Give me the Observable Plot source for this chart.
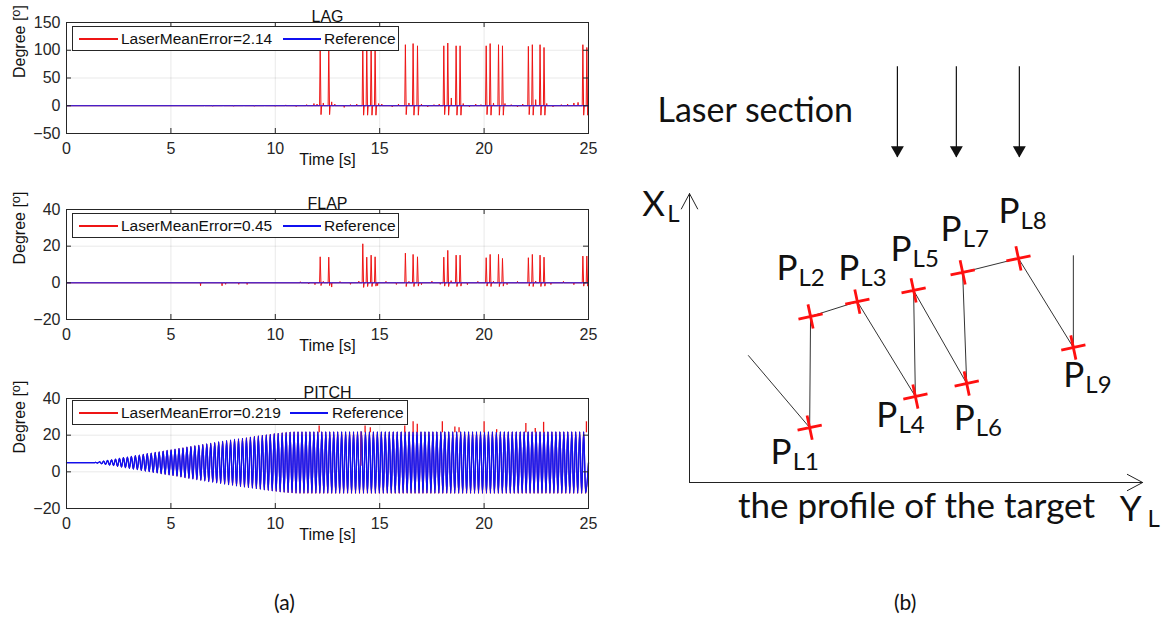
<!DOCTYPE html>
<html><head><meta charset="utf-8">
<script src="https://cdn.jsdelivr.net/npm/d3@7"></script>
<script src="https://cdn.jsdelivr.net/npm/@observablehq/plot@0.6"></script>
<style>
body{margin:0;background:#fff;}
#fig{position:relative;width:1175px;height:621px;overflow:hidden;background:#fff;font-family:"Liberation Sans",Arial,sans-serif;}
.panel{position:absolute;}
.legend{position:absolute;background:#fff;border:1px solid #262626;box-sizing:border-box;font-size:15.5px;color:#111;}
.legend .sw{position:absolute;top:11px;height:1.5px;}
.legend .tx{position:absolute;top:0;line-height:23px;white-space:nowrap;}
.cap{position:absolute;font-family:Lato,"Open Sans",sans-serif;font-size:21px;color:#111;}
</style></head>
<body><div id="fig"></div>
<script>
// ---------- DATA ----------
const timeTicks = [0, 5, 10, 15, 20, 25];
const lagTicks = [-50, 0, 50, 100, 150];
const flapTicks = [-20, 0, 20, 40];
const pitchTicks = [-20, 0, 20, 40];
const panelTitles = ["LAG", "FLAP", "PITCH"];
const laserErrors = ["2.14", "0.45", "0.219"];
const seriesNames = ["LaserMeanError", "Reference"];

// spike times (s) common to the laser estimates
const spikeTimes = [12.12, 12.53, 14.16, 14.35, 14.56, 14.75, 16.20, 16.57, 16.78, 18.04, 18.23, 18.63, 18.82,
  20.07, 20.26, 20.66, 20.85, 22.09, 22.28, 22.65, 22.84, 24.70, 24.89];
const lagSpikeHighs = [110, 110, 110, 110, 110, 110, 110, 112, 108, 108, 113, 108, 108, 108, 112, 110, 108, 107, 110, 110, 105, 110, 105];
const lagSpikeLows = [-16, -16, -17, -17, -17, -17, -16, -17, -17, -16, -17, -17, -17, -16, -17, -17, -17, -16, -17, -17, -17, -17, -17];
const lagBlipTimes = [6.6, 7.0, 7.5, 8.0, 8.5, 9.0, 9.5, 10.0, 10.5, 11.0, 11.5, 11.85, 12.0, 12.3, 12.7, 12.85, 13.3, 13.6, 13.9, 14.95,
  15.1, 15.6, 15.9, 16.4, 17.0, 17.3, 17.6, 17.85, 18.43, 19.0, 19.3, 19.6, 19.85, 20.45, 21.0, 21.3, 21.6, 21.85, 22.47, 23.0,
  23.3, 23.7, 24.0, 24.3, 24.5];
const lagBlipValues = [1, -1, 1, -1, 1, -1, 1, -1, 1.5, -1.5, 2, 4, 3, 5, 7, 3, -3, 2, 3, 4,
  3, -2, 3, 5, 3, -2, 2, 3, 14, 4, -2, 3, 2, 5, 4, 2, -2, 3, 11, 4,
  -2, 2, 3, 5, 6];

const flapSpikeHighs = [14.2, 14, 21.3, 14, 15.1, 14.2, 16.2, 15.5, 14.2, 14, 17.7, 15.1, 15.1, 13.7, 15.5, 15.5, 13.3, 13.7, 15.5, 15.1, 14, 14.6, 14.6];
const flapSpikeLows = [-1.5, -1.5, -2.5, -2, -2, -1.8, -2, -2, -1.8, -1.8, -2, -2, -1.8, -1.8, -2, -2, -1.8, -1.8, -2, -2, -1.8, -1.8, -1.8];
const flapBlipTimes = [6.42, 7.45, 7.62, 8.25, 8.65, 11.2, 11.6, 11.9, 12.3, 12.7, 13.1, 13.6, 14.0, 14.9, 15.3, 15.8, 16.4, 17.0, 17.5, 17.9,
  18.42, 19.2, 19.7, 20.45, 21.1, 21.6, 22.47, 23.2, 23.8, 24.3];
const flapBlipValues = [-1.6, -1.6, -0.8, -0.8, -0.9, 0.6, -0.6, -1, 0.8, -2.3, 0.7, -0.8, 0.9, -1.5, 0.8, -0.9, 0.8, -1, 0.9, -0.8,
  1.2, -1, 0.8, 0.9, -1, 0.8, 1, -0.9, 0.8, -1];

// pitch: rest value, oscillation start and period, then per-cycle peaks / troughs
const pitchRest = 5;
const pitchStart = 1.35;
const pitchPeriod = 0.19;
const pitchPeaks = [
  5.2, 5.5, 5.9, 6.2, 6.6, 6.9, 7.3, 7.7, 8.0, 8.4,
  8.8, 9.1, 9.5, 9.9, 10.2, 10.6, 10.9, 11.3, 11.7, 12.0,
  12.4, 12.8, 13.1, 13.5, 13.8, 14.2, 14.5, 14.9, 15.2, 15.6,
  15.9, 16.3, 16.6, 17.0, 17.3, 17.7, 18.0, 18.3, 18.6, 19.0,
  19.3, 19.6, 19.9, 20.2, 20.5, 20.8, 21.0, 21.3, 21.5, 21.7,
  21.8, 21.8, 21.8, 21.8, 21.8, 21.8, 21.8, 21.8, 21.8, 21.8,
  21.8, 21.8, 21.8, 21.8, 21.8, 21.8, 21.8, 21.8, 21.8, 21.8,
  21.8, 21.8, 21.8, 21.8, 21.8, 21.8, 21.8, 21.8, 21.8, 21.8,
  21.8, 21.8, 21.8, 21.8, 21.8, 21.8, 21.8, 21.8, 21.8, 21.8,
  21.8, 21.8, 21.8, 21.8, 21.8, 21.8, 21.8, 21.8, 21.8, 21.8,
  21.8, 21.8, 21.8, 21.8, 21.8, 21.8, 21.8, 21.8, 21.8, 21.8,
  21.8, 21.8, 21.8, 21.8, 21.8, 21.8, 21.8, 21.8, 21.8, 21.8,
  21.8, 21.8, 21.8, 21.8];
const pitchRefTroughs = [
  4.8, 4.4, 4.1, 3.7, 3.4, 3.0, 2.6, 2.3, 1.9, 1.5,
  1.2, 0.8, 0.4, 0.1, -0.3, -0.6, -1.0, -1.4, -1.7, -2.1,
  -2.4, -2.8, -3.2, -3.5, -3.9, -4.2, -4.6, -4.9, -5.3, -5.6,
  -6.0, -6.3, -6.7, -7.0, -7.3, -7.7, -8.0, -8.3, -8.6, -8.9,
  -9.2, -9.5, -9.8, -10.1, -10.4, -10.6, -10.9, -11.1, -11.3, -11.4,
  -11.5, -11.5, -11.5, -11.5, -11.5, -11.5, -11.5, -11.5, -11.5, -11.5,
  -11.5, -11.5, -11.5, -11.5, -11.5, -11.5, -11.5, -11.5, -11.5, -11.5,
  -11.5, -11.5, -11.5, -11.5, -11.5, -11.5, -11.5, -11.5, -11.5, -11.5,
  -11.5, -11.5, -11.5, -11.5, -11.5, -11.5, -11.5, -11.5, -11.5, -11.5,
  -11.5, -11.5, -11.5, -11.5, -11.5, -11.5, -11.5, -11.5, -11.5, -11.5,
  -11.5, -11.5, -11.5, -11.5, -11.5, -11.5, -11.5, -11.5, -11.5, -11.5,
  -11.5, -11.5, -11.5, -11.5, -11.5, -11.5, -11.5, -11.5, -11.5, -11.5,
  -11.5, -11.5, -11.5, -11.5];
const pitchLaserTroughs = [
  4.8, 4.4, 4.1, 3.7, 3.4, 3.0, 2.6, 2.3, 1.9, 1.5,
  1.2, 0.8, 0.4, 0.1, -0.3, -0.6, -1.0, -1.4, -1.7, -2.1,
  -2.4, -2.8, -3.2, -3.5, -3.9, -4.2, -4.6, -4.9, -5.3, -5.6,
  -6.0, -6.3, -6.7, -7.0, -7.3, -7.7, -8.0, -8.3, -8.6, -8.9,
  -9.2, -9.5, -9.8, -10.1, -10.4, -10.7, -11.0, -11.2, -11.4, -11.6,
  -11.7, -11.8, -11.8, -11.8, -11.8, -11.8, -11.8, -11.8, -11.8, -11.8,
  -11.8, -11.8, -11.8, -11.8, -11.8, -11.8, -11.8, -11.8, -11.8, -11.8,
  -11.8, -11.8, -11.8, -11.8, -11.8, -11.8, -11.8, -11.8, -11.8, -11.8,
  -11.8, -11.8, -11.8, -11.8, -11.8, -11.8, -11.8, -11.8, -11.8, -11.8,
  -11.8, -11.8, -11.8, -11.8, -11.8, -11.8, -11.8, -11.8, -11.8, -11.8,
  -11.8, -11.8, -11.8, -11.8, -11.8, -11.8, -11.8, -11.8, -11.8, -11.8,
  -11.8, -11.8, -11.8, -11.8, -11.8, -11.8, -11.8, -11.8, -11.8, -11.8,
  -11.8, -11.8, -11.8, -11.8];
const pitchSpikeTimes = [12.1, 14.3, 14.55, 16.2, 16.6, 16.8, 18.0, 18.6, 18.8, 20.0, 20.6, 22.0, 22.45, 22.85, 24.9];
const pitchSpikeValues = [25, 25, 24, 25, 27.3, 26, 27.3, 24.5, 24, 27.3, 23, 26.4, 23.6, 27, 27.3];
const pitchDropTime = 14.1;
const pitchDropValue = 3;

// diagram (b): laser points in the (Y_L, X_L) frame, arbitrary units
const pointNames = ["L1", "L2", "L3", "L4", "L5", "L6", "L7", "L8", "L9"];
const pointYL = [2.67, 2.69, 3.73, 5.02, 4.98, 6.16, 6.07, 7.31, 8.53];
const pointXL = [1.22, 3.69, 4.02, 1.91, 4.27, 2.20, 4.67, 4.98, 3.00];
const profileStart = [1.31, 2.82];
const profileEnd = [8.53, 5.04];
const laserBeamYL = [4.62, 5.93, 7.33];
const laserBeamTop = 9.24;
const laserBeamTip = 7.22;
const axisXLength = 6.42;
const axisYLength = 10.07;

// ---------- STYLE / LAYOUT ----------
const RED = "#ee1515", BLUE = "#1010f0", INK = "#262626";
const fig = document.getElementById("fig");

function spikeSeries(spHigh, spLow, blipT, blipV) {
  const ev = [];
  spikeTimes.forEach((t, i) => ev.push({t, kind: "s", hi: spHigh[i], lo: spLow[i]}));
  blipT.forEach((t, i) => ev.push({t, kind: "b", v: blipV[i]}));
  ev.sort((a, b) => a.t - b.t);
  const pts = [[0, 0]];
  for (const e of ev) {
    if (e.kind === "s") pts.push([e.t, 0], [e.t + 0.03, e.hi], [e.t + 0.07, e.lo], [e.t + 0.1, 0]);
    else pts.push([e.t - 0.015, 0], [e.t, e.v], [e.t + 0.015, 0]);
  }
  pts.push([25, 0]);
  return pts;
}
function zigzag(peaks, troughs) {
  const pts = [[0, pitchRest], [pitchStart, pitchRest]];
  peaks.forEach((p, k) => {
    const t = pitchStart + k * pitchPeriod;
    pts.push([t + pitchPeriod * 0.25, p], [t + pitchPeriod * 0.75, troughs[k]]);
  });
  pts.push([25, pitchRest]);
  return pts;
}

const panels = [
  {top: 0, mb: 42, ticks: lagTicks, laser: spikeSeries(lagSpikeHighs, lagSpikeLows, lagBlipTimes, lagBlipValues),
   ref: [[0, 0], [25, 0]], curve: "linear", laserW: 1, refW: 1, refPasses: 1, legendTop: 26, legendW: 327, sw2: 210, tx2: 251},
  {top: 187, mb: 43, ticks: flapTicks, laser: spikeSeries(flapSpikeHighs, flapSpikeLows, flapBlipTimes, flapBlipValues),
   ref: [[0, 0], [25, 0]], curve: "linear", laserW: 1, refW: 1, refPasses: 1, legendTop: 213, legendW: 327, sw2: 210, tx2: 251},
  {top: 376, mb: 43, ticks: pitchTicks, laser: zigzag(pitchPeaks, pitchLaserTroughs),
   ref: zigzag(pitchPeaks, pitchRefTroughs), curve: "monotone-x", laserW: 0.7, refW: 1.2, refPasses: 2, legendTop: 400, legendW: 336, sw2: 217, tx2: 259}
];

const W = 600, H = 175, ML = 66, MR = 12, MT = 22, FS = 16;
panels.forEach((p, idx) => {
  const FH = H - MT - p.mb, FW = W - ML - MR;
  const yDom = [p.ticks[0], p.ticks[p.ticks.length - 1]];
  const marks = [
    Plot.line(p.laser, {x: d => d[0], y: d => d[1], stroke: RED, strokeWidth: p.laserW, curve: p.curve})
  ];
  for (let k = 0; k < p.refPasses; k++) {
    marks.push(Plot.line(p.ref, {x: d => d[0], y: d => d[1], stroke: BLUE, strokeWidth: p.refW, curve: p.curve}));
  }
  if (idx === 2) {
    marks.push(
      Plot.ruleX(pitchSpikeTimes.map((t, i) => i),
        {x: i => pitchSpikeTimes[i], y1: 21.3, y2: i => pitchSpikeValues[i], stroke: RED, strokeWidth: 1.3}),
      Plot.ruleX([pitchDropTime], {x: d => d, y1: 21.8, y2: pitchDropValue, stroke: "#7a1a9a", strokeWidth: 1.3})
    );
  }
  marks.push(
    Plot.tickX(timeTicks, {x: d => d, insetTop: FH - 5, stroke: INK}),
    Plot.tickX(timeTicks, {x: d => d, insetBottom: FH - 5, stroke: INK}),
    Plot.tickY(p.ticks, {y: d => d, insetRight: FW - 5, stroke: INK}),
    Plot.tickY(p.ticks, {y: d => d, insetLeft: FW - 5, stroke: INK}),
    Plot.frame({stroke: INK, strokeWidth: 1}),
    Plot.text([panelTitles[idx]], {text: d => d, frameAnchor: "top", dy: -12, fontSize: FS, fill: "#111"}),
    Plot.text(["Time [s]"], {text: d => d, frameAnchor: "bottom", dy: 31, fontSize: FS, fill: "#111"}),
    Plot.text(["Degree [o]"], {text: d => d, frameAnchor: "left", dx: -47, rotate: -90, fontSize: FS, fill: "#111"})
  );
  const chart = Plot.plot({
    width: W, height: H, marginLeft: ML, marginRight: MR, marginTop: MT, marginBottom: p.mb,
    style: {fontFamily: "'Liberation Sans', Arial, sans-serif", fontSize: FS + "px", color: INK, background: "transparent"},
    x: {domain: [0, 25], ticks: timeTicks, tickSize: 0, tickPadding: 9, label: null, grid: true},
    y: {domain: yDom, ticks: p.ticks, tickSize: 0, tickPadding: 6, label: null, grid: true},
    marks
  });
  chart.querySelectorAll("g[aria-label$='axis tick label'], g[aria-label$='axis']").forEach(g => g.setAttribute("font-size", FS));
  // superscript degree "o" inside the y label
  chart.querySelectorAll("text").forEach(t => {
    if (t.textContent === "Degree [o]") {
      t.textContent = "";
      const ns = "http://www.w3.org/2000/svg";
      const a = document.createElementNS(ns, "tspan"); a.textContent = "Degree [";
      const b = document.createElementNS(ns, "tspan"); b.textContent = "o"; b.setAttribute("dy", "-0.4em"); b.setAttribute("font-size", "0.8em");
      const c = document.createElementNS(ns, "tspan"); c.textContent = "]"; c.setAttribute("dy", "0.32em");
      t.append(a, b, c);
    }
  });
  const holder = document.createElement("div");
  holder.className = "panel";
  holder.style.left = "0px"; holder.style.top = p.top + "px";
  holder.appendChild(chart);
  fig.appendChild(holder);

  const lg = document.createElement("div");
  lg.className = "legend";
  lg.style.left = "72px"; lg.style.top = p.legendTop + "px";
  lg.style.width = p.legendW + "px"; lg.style.height = "25px";
  lg.innerHTML =
    `<div class="sw" style="left:6px;width:39px;background:${RED}"></div>` +
    `<div class="tx" style="left:48px">${seriesNames[0]}=${laserErrors[idx]}</div>` +
    `<div class="sw" style="left:${p.sw2}px;width:38px;background:${BLUE}"></div>` +
    `<div class="tx" style="left:${p.tx2}px">${seriesNames[1]}</div>`;
  fig.appendChild(lg);
});

// ---------- diagram (b) ----------
const DW = 555, DH = 530;
const profile = [profileStart, ...pointYL.map((y, i) => [y, pointXL[i]]), profileEnd];
const labelDx = [-18, -13, 2, -18, -2, 8, -1, 1, 11];
const labelDy = [25, -48, -33, 19, -41, 35, -43, -47, 28];
const big = 35, small = 24;
const dmarks = [
  Plot.arrow([{x1: 0, y1: 0, x2: 0, y2: axisXLength}, {x1: 0, y1: 0, x2: axisYLength, y2: 0}],
    {x1: "x1", y1: "y1", x2: "x2", y2: "y2", stroke: "#222", strokeWidth: 1, headLength: 26, headAngle: 56}),
  Plot.ruleX(laserBeamYL, {x: d => d, y1: laserBeamTop, y2: laserBeamTip, stroke: "#111", strokeWidth: 1.2}),
  Plot.dot(laserBeamYL, {x: d => d, y: laserBeamTip, symbol: "triangle", r: 4.8, fill: "#111", rotate: 180, dy: -7.5}),
  Plot.line(profile, {x: d => d[0], y: d => d[1], stroke: "#333", strokeWidth: 1}),
  Plot.dot(pointYL.map((y, i) => i), {x: i => pointYL[i], y: i => pointXL[i], symbol: "plus", r: 8, stroke: "#ff1010", strokeWidth: 2.8, rotate: -12}),
  Plot.text(["Laser section"], {text: d => d, frameAnchor: "top-left", dx: -32, dy: 43, textAnchor: "start", fontSize: 34, fill: "#111"}),
  Plot.text(["the profile of the target"], {text: d => d, frameAnchor: "bottom", dx: 2, dy: 35, fontSize: big, fill: "#111"}),
  Plot.text(["X"], {text: d => d, x: 0, y: axisXLength, dx: -36, dy: 11, fontSize: big, fill: "#111"}),
  Plot.text(["L"], {text: d => d, x: 0, y: axisXLength, dx: -16, dy: 21, fontSize: small, fill: "#111"}),
  Plot.text(["Y"], {text: d => d, x: axisYLength, y: 0, dx: -12, dy: 27, fontSize: big, fill: "#111"}),
  Plot.text(["L"], {text: d => d, x: axisYLength, y: 0, dx: 11, dy: 37, fontSize: small, fill: "#111"})
];
pointNames.forEach((name, i) => {
  dmarks.push(
    Plot.text([i], {x: j => pointYL[j], y: j => pointXL[j], text: () => "P", dx: labelDx[i], dy: labelDy[i], textAnchor: "end", fontSize: big, fill: "#111"}),
    Plot.text([i], {x: j => pointYL[j], y: j => pointXL[j], text: j => pointNames[j], dx: labelDx[i] + 1, dy: labelDy[i] + 10, textAnchor: "start", fontSize: small, fill: "#111"})
  );
});
const diagram = Plot.plot({
  width: DW, height: DH, marginLeft: 69, marginRight: 36, marginTop: 14.5, marginBottom: 88,
  style: {fontFamily: "Lato, 'Open Sans', sans-serif", background: "transparent", overflow: "visible"},
  x: {domain: [0, 10], axis: null},
  y: {domain: [0, 9.5], axis: null},
  marks: dmarks
});
const dh = document.createElement("div");
dh.className = "panel";
dh.style.left = "620px"; dh.style.top = "40px";
dh.appendChild(diagram);
fig.appendChild(dh);

// captions
[["(a)", 274], ["(b)", 894]].forEach(([t, x]) => {
  const c = document.createElement("div");
  c.className = "cap";
  c.style.left = x + "px"; c.style.top = "589px";
  c.textContent = t;
  fig.appendChild(c);
});
</script></body></html>
